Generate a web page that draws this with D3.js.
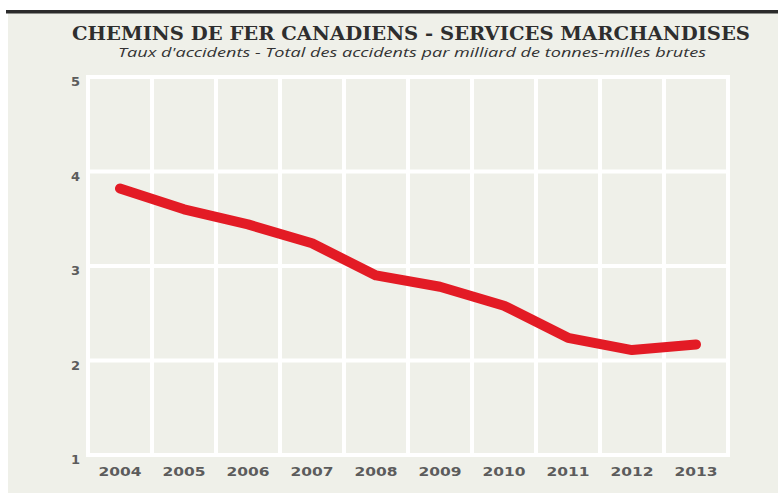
<!DOCTYPE html>
<html>
<head>
<meta charset="utf-8">
<script src="https://cdn.jsdelivr.net/npm/d3@7"></script>
<style>
  body { margin: 0; background: #fff; }
  svg { display: block; }
</style>
</head>
<body>
<script>
var years = ["2004", "2005", "2006", "2007", "2008", "2009", "2010", "2011", "2012", "2013"];
var rates = [3.82, 3.60, 3.44, 3.24, 2.90, 2.78, 2.58, 2.24, 2.11, 2.17];
var yTicks = [1, 2, 3, 4, 5];

var width = 778,
  height = 493;

var margin = {top: 77, left: 88, right: 50, bottom: 38};

var svg = d3.select("body").append("svg")
    .attr("width", width)
    .attr("height", height);

// panel + top rule
svg.append("rect")
  .attr("x", 8).attr("y", 13)
  .attr("width", width - 8).attr("height", height - 13)
  .attr("fill", "#eff0e9");
svg.append("rect")
  .attr("x", 6).attr("y", 10)
  .attr("width", width - 6).attr("height", 3.5)
  .attr("fill", "#2b2b2b");

svg.append("text")
  .attr("x", 411).attr("y", 40)
  .attr("text-anchor", "middle")
  .attr("font-family", "DejaVu Serif Condensed, DejaVu Serif, serif")
  .attr("font-weight", "bold")
  .attr("font-size", 18.5)
  .attr("fill", "#2e2e2e")
  .attr("textLength", 678)
  .attr("lengthAdjust", "spacingAndGlyphs")
  .text("CHEMINS DE FER CANADIENS -  SERVICES MARCHANDISES");

svg.append("text")
  .attr("x", 412).attr("y", 57)
  .attr("text-anchor", "middle")
  .attr("font-family", "Liberation Sans Narrow, Open Sans, sans-serif")
  .attr("font-style", "italic")
  .attr("font-size", 13.5)
  .attr("fill", "#333")
  .attr("textLength", 588)
  .attr("lengthAdjust", "spacingAndGlyphs")
  .text("Taux d'accidents - Total des accidents par milliard de tonnes-milles brutes");

var x = d3.scaleBand()
  .domain(years)
  .range([margin.left, width - margin.right]);

var y = d3.scaleLinear()
  .domain([1, 5])
  .range([455, margin.top]);

// grid
var g = svg.append("g");
g.selectAll(".hgrid")
  .data(yTicks)
  .enter().append("line")
  .attr("x1", margin.left - 2).attr("x2", width - margin.right + 2)
  .attr("y1", function(d){ return y(d); })
  .attr("y2", function(d){ return y(d); })
  .attr("stroke", "#fff")
  .attr("stroke-width", 4);

var vlines = years.map(function(d){ return x(d); }).concat([x.range()[1]]);
g.selectAll(".vgrid")
  .data(vlines)
  .enter().append("line")
  .attr("x1", function(d){ return d; }).attr("x2", function(d){ return d; })
  .attr("y1", y(5) - 2).attr("y2", y(1) + 2)
  .attr("stroke", "#fff")
  .attr("stroke-width", 4);

// axis labels
svg.selectAll(".ylab")
  .data(yTicks)
  .enter().append("text")
  .attr("x", 80)
  .attr("y", function(d){ return y(d) + 9; })
  .attr("text-anchor", "end")
  .attr("font-family", "DejaVu Sans, sans-serif")
  .attr("font-weight", "bold")
  .attr("font-size", 13)
  .attr("fill", "#5c5c5c")
  .text(function(d){ return d; });

svg.selectAll(".xlab")
  .data(years)
  .enter().append("text")
  .attr("x", function(d){ return x(d) + x.bandwidth() / 2; })
  .attr("y", 476)
  .attr("text-anchor", "middle")
  .attr("font-family", "DejaVu Sans, sans-serif")
  .attr("font-weight", "bold")
  .attr("font-size", 13)
  .attr("fill", "#5c5c5c")
  .attr("textLength", 43)
  .attr("lengthAdjust", "spacingAndGlyphs")
  .text(function(d){ return d; });

// line
var line = d3.line()
  .x(function(d, i){ return x(years[i]) + x.bandwidth() / 2; })
  .y(function(d){ return y(d); });

svg.append("path")
  .datum(rates)
  .attr("d", line)
  .attr("fill", "none")
  .attr("stroke", "#e31b25")
  .attr("stroke-width", 10)
  .attr("stroke-linecap", "round")
  .attr("stroke-linejoin", "round");
</script>
</body>
</html>
